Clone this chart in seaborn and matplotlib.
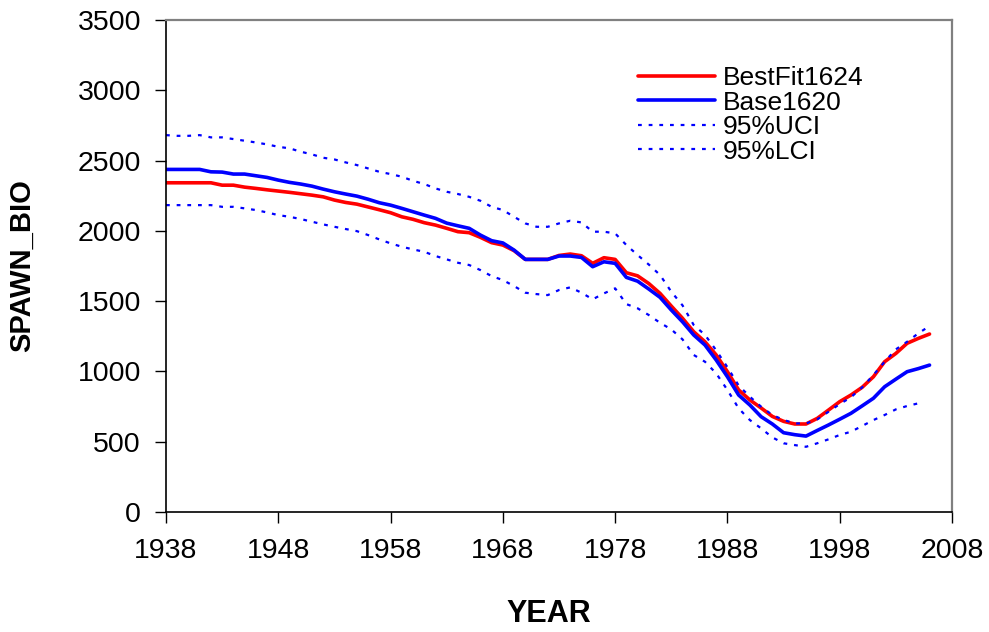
import numpy as np
import pandas as pd
import matplotlib
matplotlib.use("Agg")
import matplotlib.pyplot as plt
import seaborn as sns

years = list(range(1938, 2007))

best_fit_1624 = [2342, 2342, 2342, 2342, 2342, 2325, 2325, 2311, 2302, 2292,
                 2283, 2274, 2264, 2254, 2242, 2219, 2202, 2190, 2170, 2150,
                 2129, 2100, 2082, 2058, 2041, 2018, 1994, 1987, 1954, 1916,
                 1899, 1859, 1797, 1797, 1797, 1825, 1835, 1823, 1769, 1809,
                 1797, 1702, 1680, 1625, 1555, 1465, 1378, 1282, 1211, 1117,
                 998, 868, 797, 740, 680, 645, 626, 626, 666, 725,
                 785, 832, 887, 962, 1069, 1128, 1200, 1235, 1266]

base_1620 = [2437, 2437, 2437, 2437, 2420, 2418, 2404, 2404, 2392, 2380,
             2361, 2345, 2333, 2318, 2297, 2278, 2262, 2247, 2225, 2200,
             2183, 2160, 2136, 2112, 2089, 2055, 2036, 2018, 1970, 1930,
             1914, 1863, 1797, 1797, 1797, 1821, 1821, 1811, 1745, 1780,
             1769, 1669, 1642, 1586, 1527, 1437, 1353, 1259, 1188, 1081,
             962, 832, 761, 678, 626, 564, 550, 540, 580, 619,
             660, 702, 755, 809, 891, 945, 998, 1020, 1045]

uci_95 = [2681, 2676, 2676, 2681, 2665, 2665, 2653, 2641, 2629, 2615,
          2598, 2587, 2563, 2544, 2520, 2508, 2487, 2468, 2444, 2420,
          2404, 2385, 2356, 2333, 2302, 2278, 2262, 2242, 2214, 2171,
          2148, 2100, 2053, 2029, 2029, 2053, 2072, 2060, 1994, 1994,
          1982, 1899, 1828, 1760, 1686, 1567, 1470, 1330, 1260, 1150,
          1030, 900, 820, 749, 690, 655, 630, 630, 659, 713,
          768, 816, 887, 974, 1069, 1157, 1211, 1271, 1323]

lci_95 = [2183, 2183, 2183, 2183, 2183, 2171, 2171, 2160, 2148, 2131,
          2112, 2100, 2084, 2065, 2046, 2029, 2013, 1998, 1970, 1939,
          1911, 1887, 1868, 1851, 1821, 1797, 1773, 1757, 1721, 1678,
          1650, 1607, 1560, 1550, 1543, 1579, 1598, 1560, 1513, 1555,
          1591, 1479, 1449, 1401, 1346, 1299, 1228, 1117, 1069, 986,
          868, 737, 654, 595, 531, 489, 476, 464, 489, 517,
          548, 571, 612, 654, 690, 730, 754, 773, np.nan]

series_names = ["BestFit1624", "Base1620", "95%UCI", "95%LCI"]
x_ticks = [1938, 1948, 1958, 1968, 1978, 1988, 1998, 2008]
y_ticks = [0, 500, 1000, 1500, 2000, 2500, 3000, 3500]

df = pd.DataFrame({
    "YEAR": years,
    "BestFit1624": best_fit_1624,
    "Base1620": base_1620,
    "95%UCI": uci_95,
    "95%LCI": lci_95,
})

sns.set_style("white")
plt.rcParams["font.family"] = ["Liberation Sans", "DejaVu Sans"]
plt.rcParams["text.color"] = "black"
plt.rcParams["axes.labelcolor"] = "black"
plt.rcParams["xtick.color"] = "black"
plt.rcParams["ytick.color"] = "black"

fig = plt.figure(figsize=(9.89, 6.32), dpi=100)
ax = fig.add_axes([166 / 989, 1 - 512 / 632, (952 - 166) / 989, (512 - 20) / 632])

styles = {
    "BestFit1624": dict(color="#FF0000", lw=2.6, ls="-"),
    "Base1620": dict(color="#0000FF", lw=2.6, ls="-"),
    "95%UCI": dict(color="#0000FF", lw=1.6, ls=(0, (1.7, 3.1))),
    "95%LCI": dict(color="#0000FF", lw=1.6, ls=(0, (1.7, 3.1))),
}
for name in series_names:
    st = styles[name]
    sns.lineplot(data=df, x="YEAR", y=name, ax=ax, color=st["color"],
                 linewidth=st["lw"], linestyle=st["ls"], label=name)

ax.set_xlim(1938, 2008)
ax.set_ylim(0, 3500)
ax.set_xticks(x_ticks)
ax.set_yticks(y_ticks)
ax.tick_params(axis="both", labelsize=20.5, direction="out", length=8,
               width=1, color="black", labelcolor="black", pad=10)
ax.tick_params(axis="x", bottom=True, pad=11)
ax.tick_params(axis="y", left=True, pad=10)

for s in ["left", "bottom"]:
    ax.spines[s].set_color("black")
    ax.spines[s].set_linewidth(1.2)
for s in ["top", "right"]:
    ax.spines[s].set_color("#808080")
    ax.spines[s].set_linewidth(1.6)

ax.set_xlabel("YEAR", fontsize=22, fontweight="bold", color="black")
ax.set_ylabel("SPAWN_BIO", fontsize=21, fontweight="bold", color="black")
ax.xaxis.label.set_va("center")
ax.yaxis.label.set_va("center")
ax.xaxis.set_label_coords((549 - 166) / 786, (512 - 614) / 492)
ax.yaxis.set_label_coords((22 - 166) / 786, 0.5)

leg = ax.legend(loc="upper left", bbox_to_anchor=(638 / 989, 1 - 66 / 632),
                bbox_transform=fig.transFigure, frameon=False, fontsize=19,
                handlelength=2.9, handletextpad=0.3, labelspacing=0.02,
                borderpad=0, borderaxespad=0)
for t in leg.get_texts():
    t.set_color("black")

fig.savefig("out.png", dpi=100)
